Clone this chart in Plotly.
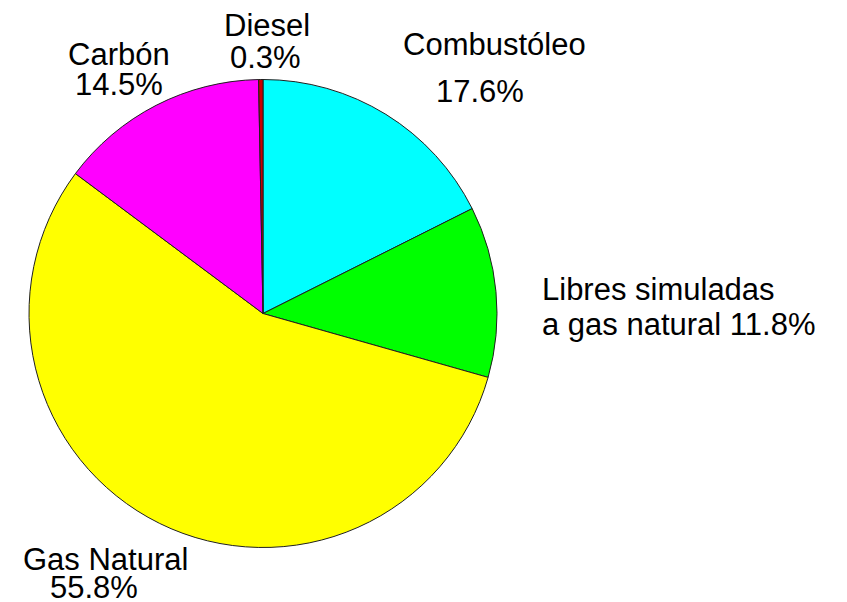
import plotly.graph_objs as go

W, H = 847, 602

labels = ["Combustóleo", "Libres simuladas a gas natural", "Gas Natural", "Carbón", "Diesel"]
values = [17.6, 11.8, 55.8, 14.5, 0.3]
colors = ["#00ffff", "#00ff00", "#ffff00", "#ff00ff", "#cc0000"]

# outside label lines: (text, x center / left in px, y middle in px, anchor)
label_lines = [
    ("Combustóleo", 494, 45, "center"),
    ("17.6%", 480, 91, "center"),
    ("Libres simuladas", 540, 290, "left"),
    ("a gas natural 11.8%", 540, 324, "left"),
    ("Gas Natural", 105, 559, "center"),
    ("55.8%", 94, 587, "center"),
    ("Carbón", 119, 54, "center"),
    ("14.5%", 119, 84, "center"),
    ("Diesel", 267, 26, "center"),
    ("0.3%", 265, 57, "center"),
]


def px_x(v):
    return v / W


def px_y(v):
    return 1 - v / H


fig = go.Figure(
    data=[
        go.Pie(
            labels=labels,
            values=values,
            marker=dict(colors=colors, line=dict(color="#202020", width=1)),
            sort=False,
            direction="clockwise",
            rotation=0,
            textinfo="none",
            hoverinfo="label+percent",
            domain=dict(x=[px_x(29), px_x(497)], y=[px_y(548), px_y(79)]),
            showlegend=False,
        )
    ]
)

font = dict(family="Liberation Sans, Arial", size=31, color="black")

annotations = []
for text, x, y, anchor in label_lines:
    annotations.append(
        dict(
            text=text, x=px_x(x), y=px_y(y), xref="paper", yref="paper",
            xanchor=anchor, yanchor="middle", showarrow=False, font=font,
        )
    )

fig.update_layout(
    width=W,
    height=H,
    margin=dict(l=0, r=0, t=0, b=0),
    paper_bgcolor="white",
    plot_bgcolor="white",
    annotations=annotations,
)

fig.write_html(
    "out.html",
    config={"displayModeBar": False},
    post_script="document.body.style.margin='0';",
)
